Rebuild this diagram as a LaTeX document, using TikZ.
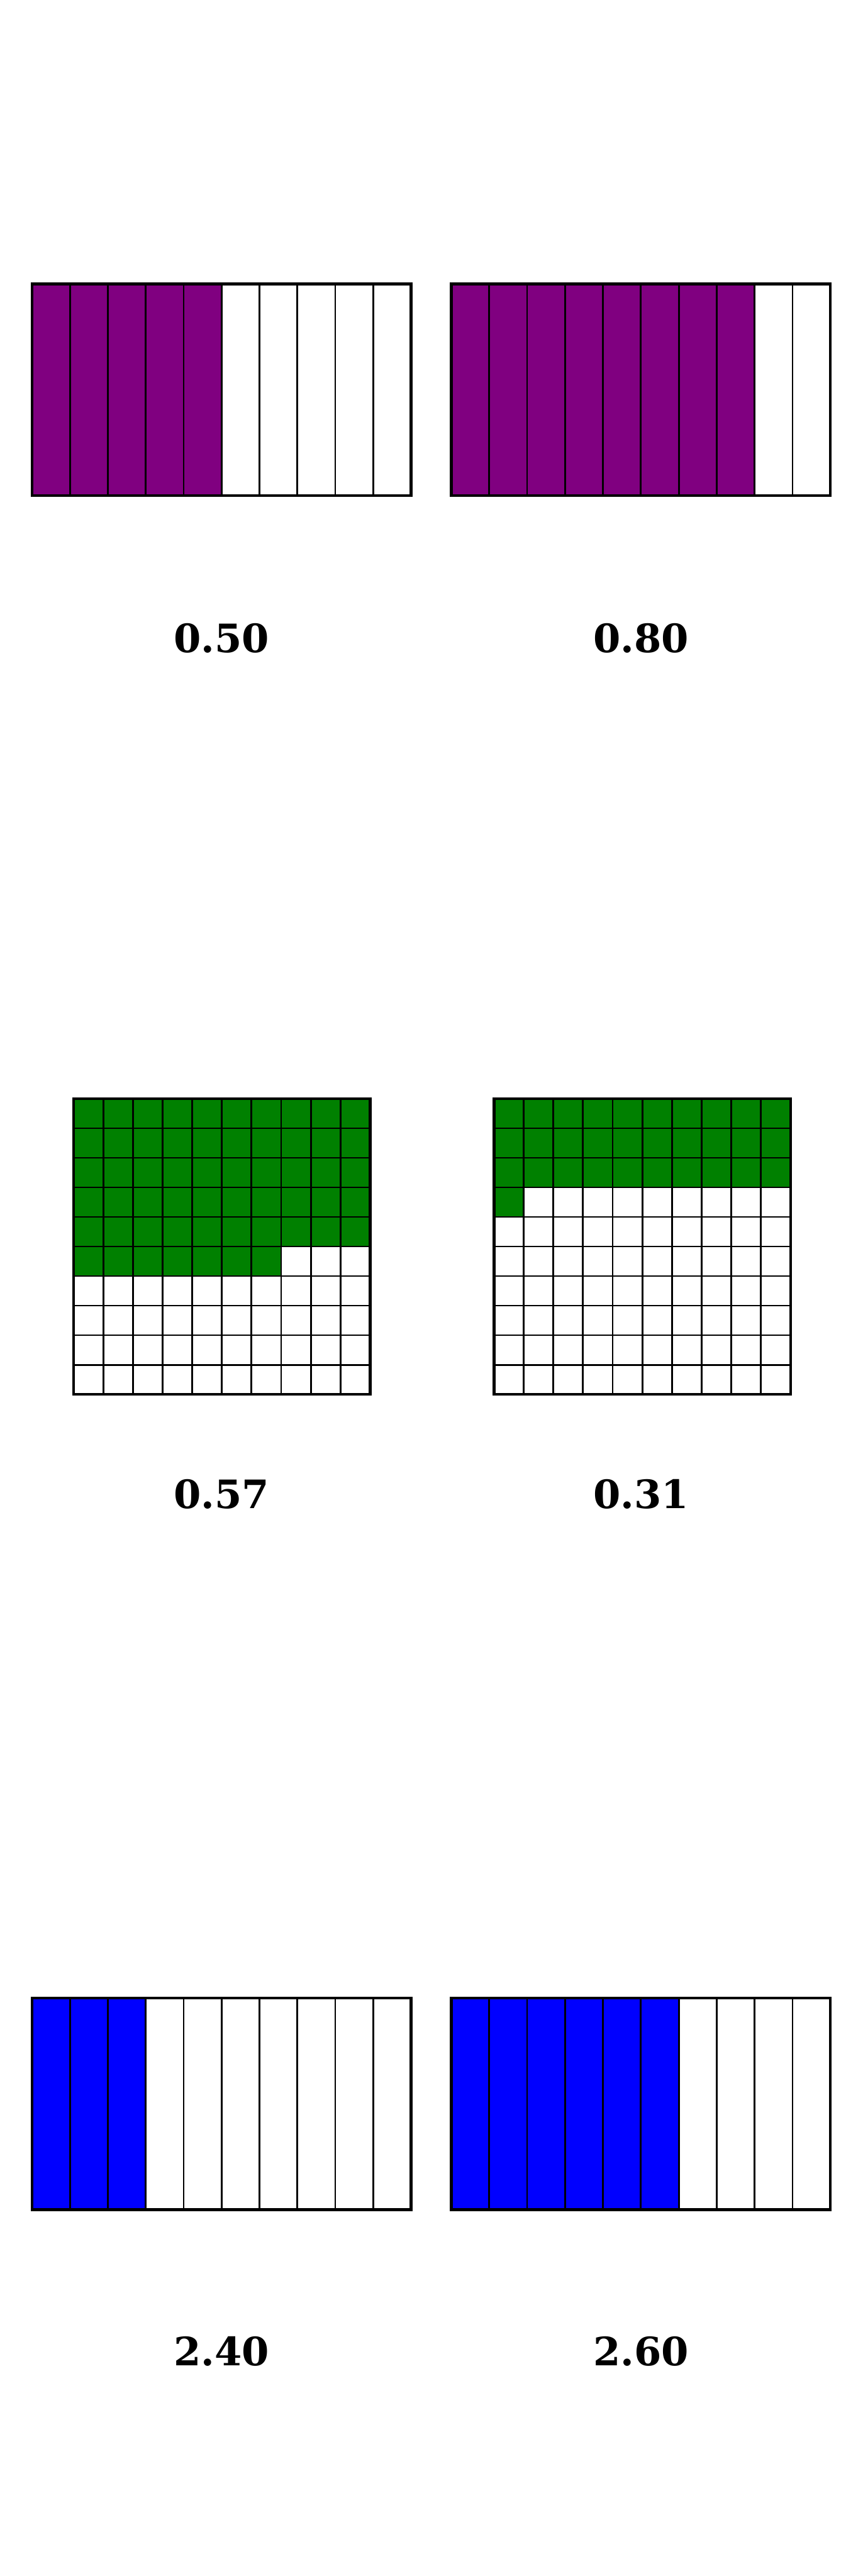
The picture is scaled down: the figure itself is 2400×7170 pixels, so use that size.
\documentclass[tikz,border=0pt]{standalone}
\usepackage{fontspec}
\setmainfont{DejaVu Serif}
\usepackage{xcolor}
\usetikzlibrary{positioning}

\definecolor{barpurple}{HTML}{800080}
\definecolor{gridgreen}{HTML}{008000}
\definecolor{barblue}{HTML}{0000FF}

% ten strips: left x, top y, filled strips, colour
\newcommand{\tenthbar}[4]{%
  \foreach \i in {0,...,9}{
    \pgfmathsetmacro{\cx}{#1+105.5*\i}
    \ifnum\i<#3 \def\cfill{#4}\else\def\cfill{white}\fi
    \draw[cell, fill=\cfill] (\cx,#2) rectangle ++(105.5,589);
  }
  \draw[frame] (#1,#2) rectangle ++(1055,589);
}

% ten by ten cells: left x, top y, filled cells, colour
\newcommand{\hundredgrid}[4]{%
  \foreach \r in {0,...,9}{
    \foreach \c in {0,...,9}{
      \pgfmathtruncatemacro{\k}{10*\r+\c}
      \pgfmathsetmacro{\cx}{#1+82.5*\c}
      \pgfmathsetmacro{\cy}{#2+82.3*\r}
      \ifnum\k<#3 \def\cfill{#4}\else\def\cfill{white}\fi
      \draw[cell, fill=\cfill] (\cx,\cy) rectangle ++(82.5,82.3);
    }
  }
  \draw[frame] (#1,#2) rectangle ++(825,823);
}

\begin{document}
\begin{tikzpicture}[
  x=0.01cm, y=-0.01cm,
  cell/.style={draw=black, line width=1.4pt},
  frame/.style={draw=black, line width=2.2pt},
  val/.style={font=\fontsize{31}{37}\selectfont\bfseries, inner sep=0pt}
]
\useasboundingbox[fill=white] (0,0) rectangle (2400,7170);

\tenthbar{89}{790}{5}{barpurple}
\tenthbar{1256}{790}{8}{barpurple}
\node[val] (valA) at (616.5,1776) {0.50};
\node[val] (valB) at (1784.5,1776) {0.80};

\hundredgrid{205}{3058}{57}{gridgreen}
\hundredgrid{1375}{3058}{31}{gridgreen}
\node[val] (valC) at (616.5,4158) {0.57};
\node[val] (valD) at (1784.5,4158) {0.31};

\tenthbar{89}{5561}{3}{barblue}
\tenthbar{1256}{5561}{6}{barblue}
\node[val] (valE) at (616.5,6544) {2.40};
\node[val] (valF) at (1784.5,6544) {2.60};
\end{tikzpicture}
\end{document}
